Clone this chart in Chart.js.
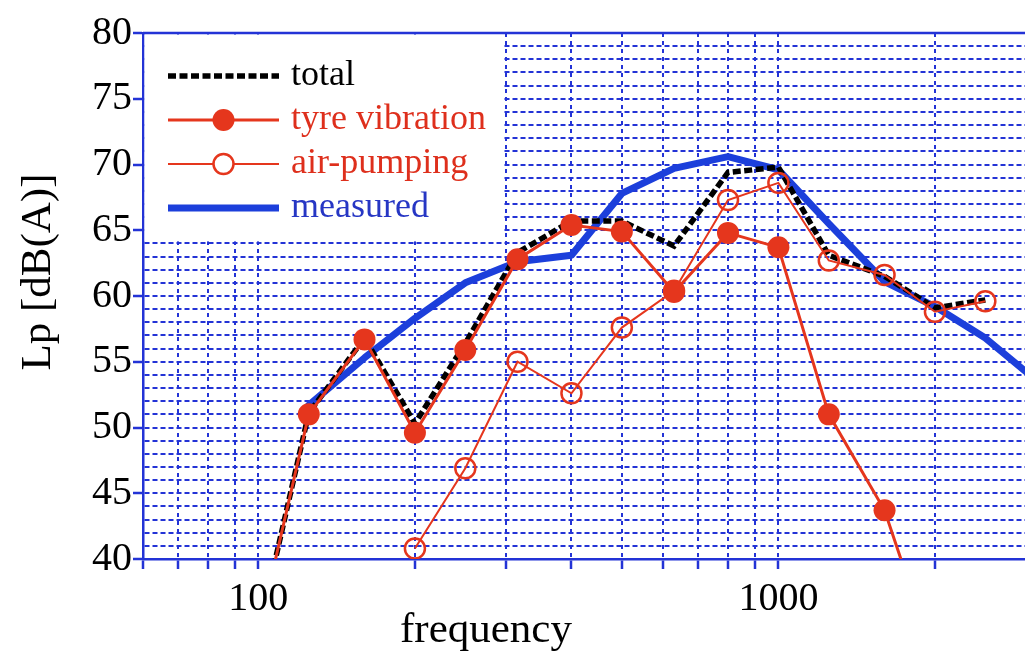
<!DOCTYPE html>
<html lang="en">

<head>
  <meta charset="utf-8">
  <style>
    html,
    body {
      margin: 0;
      overflow: hidden;
      background: #ffffff;
    }

    .chart-box {
      position: relative;
      width: 1025px;
      height: 656px;
      overflow: hidden;
    }

    canvas {
      display: block;
    }
  </style>
</head>

<body>
  <div class="chart-box">
    <canvas id="lpChart"></canvas>
  </div>
  <script src="https://cdn.jsdelivr.net/npm/chart.js"></script>
  <script>

    // third-octave band centres [Hz]
    const bands = [100, 125, 160, 200, 250, 315, 400, 500, 630, 800, 1000, 1250, 1600, 2000, 2500, 3150];

    // Lp [dB(A)] per band, null where a curve has no value
    const totalLp    = [34.3, 51.1, 56.8, 50.3, 56.4, 63.3, 65.7, 65.7, 63.8, 69.4, 69.8, 63.1, 61.5, 59.1, 59.7, null];
    const tyreLp     = [34.3, 51.0, 56.7, 49.6, 55.9, 62.8, 65.4, 64.9, 60.3, 64.8, 63.7, 51.0, 43.7, 32.3, null, null];
    const airLp      = [null, null, null, 40.8, 46.9, 55.0, 52.6, 57.6, 60.4, 67.3, 68.6, 62.7, 61.6, 58.8, 59.6, null];
    const measuredLp = [null, 51.7, 55.3, 58.3, 61.0, 62.6, 63.1, 67.8, 69.7, 70.6, 69.6, 65.5, 61.1, 59.2, 56.8, 53.5];

    // frequency grid lines and the ones that get a label
    const gridFreqs = [60, 70, 80, 90, 100, 200, 300, 400, 500, 600, 700, 800, 900, 1000, 2000];
    const xLabels = [100, 1000];
    const yLabelStep = 5;

    /* ------------------------------------------------ */

    const SERIF = '"Liberation Serif", "Times New Roman", serif';
    const GRID_BLUE = '#2333d6';
    const LINE_BLUE = '#1c3fdb';
    const RED = '#e5361d';

    function toPoints(values) {
      let pts = [];
      values.forEach((v, i) => {
        if (v == null) return;
        pts.push({ x: bands[i], y: v });
      });
      return pts;
    }

    let datasets = [
      {
        label: 'measured',
        data: toPoints(measuredLp),
        borderColor: LINE_BLUE,
        borderWidth: 7,
        borderJoinStyle: 'round',
        borderCapStyle: 'round',
        pointRadius: 0,
        textColor: '#2636c4',
        order: 4
      },
      {
        label: 'total',
        data: toPoints(totalLp),
        borderColor: '#000000',
        borderWidth: 5.5,
        borderDash: [8, 3.5],
        pointRadius: 0,
        textColor: '#000000',
        order: 3
      },
      {
        label: 'air-pumping',
        data: toPoints(airLp),
        borderColor: RED,
        borderWidth: 2,
        pointRadius: 10,
        pointBorderWidth: 2.5,
        pointBackgroundColor: 'rgba(0,0,0,0)',
        pointBorderColor: RED,
        textColor: '#de2f1c',
        order: 2
      },
      {
        label: 'tyre vibration',
        data: toPoints(tyreLp),
        borderColor: RED,
        borderWidth: 3,
        pointRadius: 11,
        pointBorderWidth: 0,
        pointBackgroundColor: RED,
        pointBorderColor: RED,
        textColor: '#de2f1c',
        order: 1
      }
    ];

    // legend rows, top to bottom
    const legendOrder = ['total', 'tyre vibration', 'air-pumping', 'measured'];

    /* ------------------------------------------------ */

    const framePlugin = {
      id: 'frame',
      beforeDatasetsDraw(chart) {
        const { ctx, chartArea: a, scales: { x, y } } = chart;
        ctx.save();

        // white box for the legend, over the grid
        const bx = x.getPixelForValue(300) - 3;
        const by = y.getPixelForValue(64) - 2;
        ctx.fillStyle = '#ffffff';
        ctx.fillRect(a.left + 1.5, a.top + 1.5, bx - a.left - 1.5, by - a.top - 1.5);

        // top frame line
        ctx.strokeStyle = GRID_BLUE;
        ctx.lineWidth = 2.5;
        ctx.beginPath();
        ctx.moveTo(a.left, a.top);
        ctx.lineTo(a.right, a.top);
        ctx.stroke();

        // legend entries
        ctx.font = '36px ' + SERIF;
        ctx.textBaseline = 'alphabetic';
        legendOrder.forEach((name, i) => {
          const ds = datasets.find(d => d.label == name);
          const base = a.top + 52 + i * 44;
          const ly = base - 9;
          const x1 = a.left + 25, x2 = a.left + 136;
          ctx.strokeStyle = ds.borderColor;
          ctx.lineWidth = ds.borderWidth;
          ctx.setLineDash(ds.borderDash || []);
          ctx.beginPath();
          ctx.moveTo(x1, ly);
          ctx.lineTo(x2, ly);
          ctx.stroke();
          ctx.setLineDash([]);
          if (ds.pointRadius) {
            ctx.beginPath();
            ctx.arc((x1 + x2) / 2, ly, ds.pointRadius, 0, Math.PI * 2);
            if (ds.pointBorderWidth) {
              ctx.fillStyle = '#ffffff';
              ctx.fill();
              ctx.lineWidth = ds.pointBorderWidth;
              ctx.strokeStyle = ds.pointBorderColor;
              ctx.stroke();
            } else {
              ctx.fillStyle = ds.pointBackgroundColor;
              ctx.fill();
            }
          }
          ctx.fillStyle = ds.textColor;
          ctx.textAlign = 'left';
          ctx.fillText(name, a.left + 148, base);
        });
        ctx.restore();
      },
      afterDraw(chart) {
        const { ctx } = chart;
        ctx.save();
        ctx.fillStyle = '#000000';
        ctx.font = '43px ' + SERIF;
        ctx.textAlign = 'center';
        ctx.textBaseline = 'alphabetic';
        ctx.fillText('frequency', 486, 642);
        ctx.translate(50, 272);
        ctx.rotate(-Math.PI / 2);
        ctx.fillText('Lp [dB(A)]', 0, 0);
        ctx.restore();
      }
    };

    /* ------------------------------------------------ */

    let ctx = document.getElementById('lpChart').getContext('2d');

    let chart = new Chart(ctx, {
      type: 'line',
      data: { datasets: datasets },
      plugins: [framePlugin],
      options: {
        responsive: true,
        maintainAspectRatio: false,
        animation: false,
        layout: {
          autoPadding: false,
          padding: { top: 33, right: 0, left: 0, bottom: 0 }
        },
        elements: {
          line: { tension: 0 }
        },
        scales: {
          x: {
            type: 'logarithmic',
            min: 60,
            max: 2980,
            afterBuildTicks: (scale) => {
              scale.ticks = gridFreqs.map(v => ({ value: v }));
            },
            afterFit: (scale) => {
              scale.height = 97;
              scale.paddingRight = 0;
            },
            ticks: {
              autoSkip: false,
              maxRotation: 0,
              padding: 6,
              color: '#000000',
              font: { family: SERIF, size: 40 },
              callback: (v) => xLabels.includes(v) ? String(v) : ''
            },
            grid: {
              color: GRID_BLUE,
              lineWidth: 2,
              tickLength: 10,
              tickWidth: 2.5,
              tickBorderDash: []
            },
            border: {
              color: GRID_BLUE,
              width: 2.5,
              dash: [4, 4]
            }
          },
          y: {
            min: 40,
            max: 80,
            afterFit: (scale) => {
              scale.width = 143;
            },
            ticks: {
              stepSize: 1,
              autoSkip: false,
              padding: 1,
              color: '#000000',
              font: { family: SERIF, size: 40 },
              callback: (v) => v % yLabelStep === 0 ? String(v) : ''
            },
            grid: {
              color: GRID_BLUE,
              lineWidth: 2,
              tickLength: 10,
              tickWidth: 2.5,
              tickBorderDash: [],
              tickColor: (c) => (c.tick && c.tick.value % yLabelStep === 0) ? GRID_BLUE : 'rgba(0,0,0,0)'
            },
            border: {
              color: GRID_BLUE,
              width: 2.5,
              dash: [5, 3]
            }
          }
        },
        plugins: {
          legend: { display: false },
          tooltip: { enabled: false }
        }
      }
    });

  </script>
</body>

</html>
